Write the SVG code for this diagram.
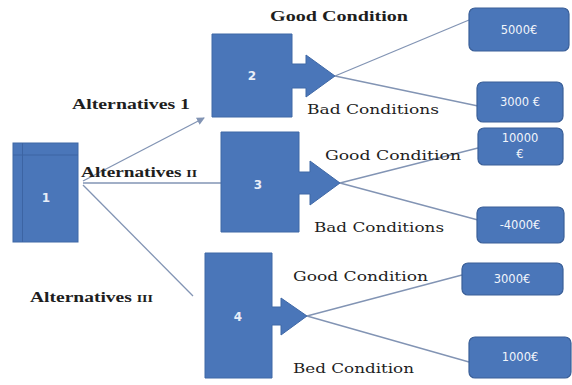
<svg xmlns="http://www.w3.org/2000/svg" width="572" height="385" viewBox="0 0 572 385">
<style>
.node{fill:#4a76b9;stroke:#3f68a6;stroke-width:1}
.val{fill:#4a76b9;stroke:#3a5f98;stroke-width:1.2}
.num{fill:#e8eef8;font-family:"DejaVu Sans",sans-serif;font-size:12px;font-weight:bold;text-anchor:middle}
.vt{fill:#f2f5fb;font-family:"DejaVu Sans",sans-serif;font-size:11.5px;text-anchor:middle}
.lbl{fill:#1e1e1e;font-family:"Liberation Serif",serif;font-size:14px;font-weight:bold}
.lbl2{fill:#1e1e1e;font-family:"DejaVu Serif",serif;font-size:13px}
.conn{stroke:#8294b4;stroke-width:1.3;fill:none}
</style>
<defs>
<marker id="ah" markerWidth="8" markerHeight="8" refX="7" refY="4" orient="auto" markerUnits="userSpaceOnUse">
<path d="M0,0 L8,4 L0,8 Z" fill="#8294b4"/>
</marker>
</defs>
<rect width="572" height="385" fill="#ffffff"/>
<g id="connectors">
<line class="conn" x1="83" y1="181" x2="204" y2="118" marker-end="url(#ah)"/>
<line class="conn" x1="83" y1="183" x2="221" y2="183"/>
<line class="conn" x1="83" y1="185" x2="193" y2="296"/>
<line class="conn" x1="335" y1="76" x2="469" y2="20"/>
<line class="conn" x1="335" y1="76" x2="478" y2="106"/>
<line class="conn" x1="340" y1="183" x2="478" y2="148"/>
<line class="conn" x1="340" y1="183" x2="478" y2="220"/>
<line class="conn" x1="307" y1="316" x2="462" y2="275"/>
<line class="conn" x1="307" y1="316" x2="469" y2="362"/>
</g>
<g id="node1">
<rect class="node" x="13" y="143" width="65" height="99"/>
<line x1="22.5" y1="143" x2="22.5" y2="242" stroke="#3c64a3" stroke-width="1"/>
<line x1="13" y1="155" x2="78" y2="155" stroke="#3c64a3" stroke-width="1"/>
<text class="num" x="46" y="202">1</text>
</g>
<g id="node2">
<path class="node" d="M212,34 H292 V64 H306 V55 L335,76 L306,97 V88 H292 V117 H212 Z"/>
<text class="num" x="252" y="80">2</text>
</g>
<g id="node3">
<path class="node" d="M221,132 H299 V172 H310 V161 L340,183 L310,205 V194 H299 V232 H221 Z"/>
<text class="num" x="258" y="189">3</text>
</g>
<g id="node4">
<path class="node" d="M205,253 H272 V307 H281 V298 L307,316 L281,335 V325 H272 V378 H205 Z"/>
<text class="num" x="238" y="321">4</text>
</g>
<g id="v5000">
<rect class="val" x="469" y="8" width="100" height="43" rx="6"/>
<text class="vt" x="519" y="34">5000€</text>
</g>
<g id="v3000a">
<rect class="val" x="477" y="82" width="86" height="40" rx="6"/>
<text class="vt" x="520" y="106">3000 €</text>
</g>
<g id="v10000">
<rect class="val" x="478" y="128" width="85" height="37" rx="6"/>
<text class="vt" x="520" y="142">10000</text>
<text class="vt" x="520" y="158">€</text>
</g>
<g id="vm4000">
<rect class="val" x="477" y="207" width="87" height="36" rx="6"/>
<text class="vt" x="520" y="229">-4000€</text>
</g>
<g id="v3000b">
<rect class="val" x="462" y="263" width="101" height="32" rx="6"/>
<text class="vt" x="512" y="283">3000€</text>
</g>
<g id="v1000">
<rect class="val" x="469" y="337" width="102" height="41" rx="6"/>
<text class="vt" x="520" y="361">1000€</text>
</g>
<g id="labels">
<text class="lbl" x="270" y="21" textLength="138" lengthAdjust="spacingAndGlyphs">Good Condition</text>
<text class="lbl" x="72" y="109" textLength="118" lengthAdjust="spacingAndGlyphs">Alternatives 1</text>
<text class="lbl" x="81" y="177" textLength="116" lengthAdjust="spacingAndGlyphs">Alternatives <tspan font-size="10px">II</tspan></text>
<text class="lbl" x="30" y="302" textLength="123" lengthAdjust="spacingAndGlyphs">Alternatives <tspan font-size="10px">III</tspan></text>
<text class="lbl2" x="307" y="114" textLength="132" lengthAdjust="spacingAndGlyphs">Bad Conditions</text>
<text class="lbl2" x="325" y="160" textLength="136" lengthAdjust="spacingAndGlyphs">Good Condition</text>
<text class="lbl2" x="314" y="232" textLength="130" lengthAdjust="spacingAndGlyphs">Bad Conditions</text>
<text class="lbl2" x="293" y="281" textLength="135" lengthAdjust="spacingAndGlyphs">Good Condition</text>
<text class="lbl2" x="293" y="373" textLength="121" lengthAdjust="spacingAndGlyphs">Bed Condition</text>
</g>
</svg>
